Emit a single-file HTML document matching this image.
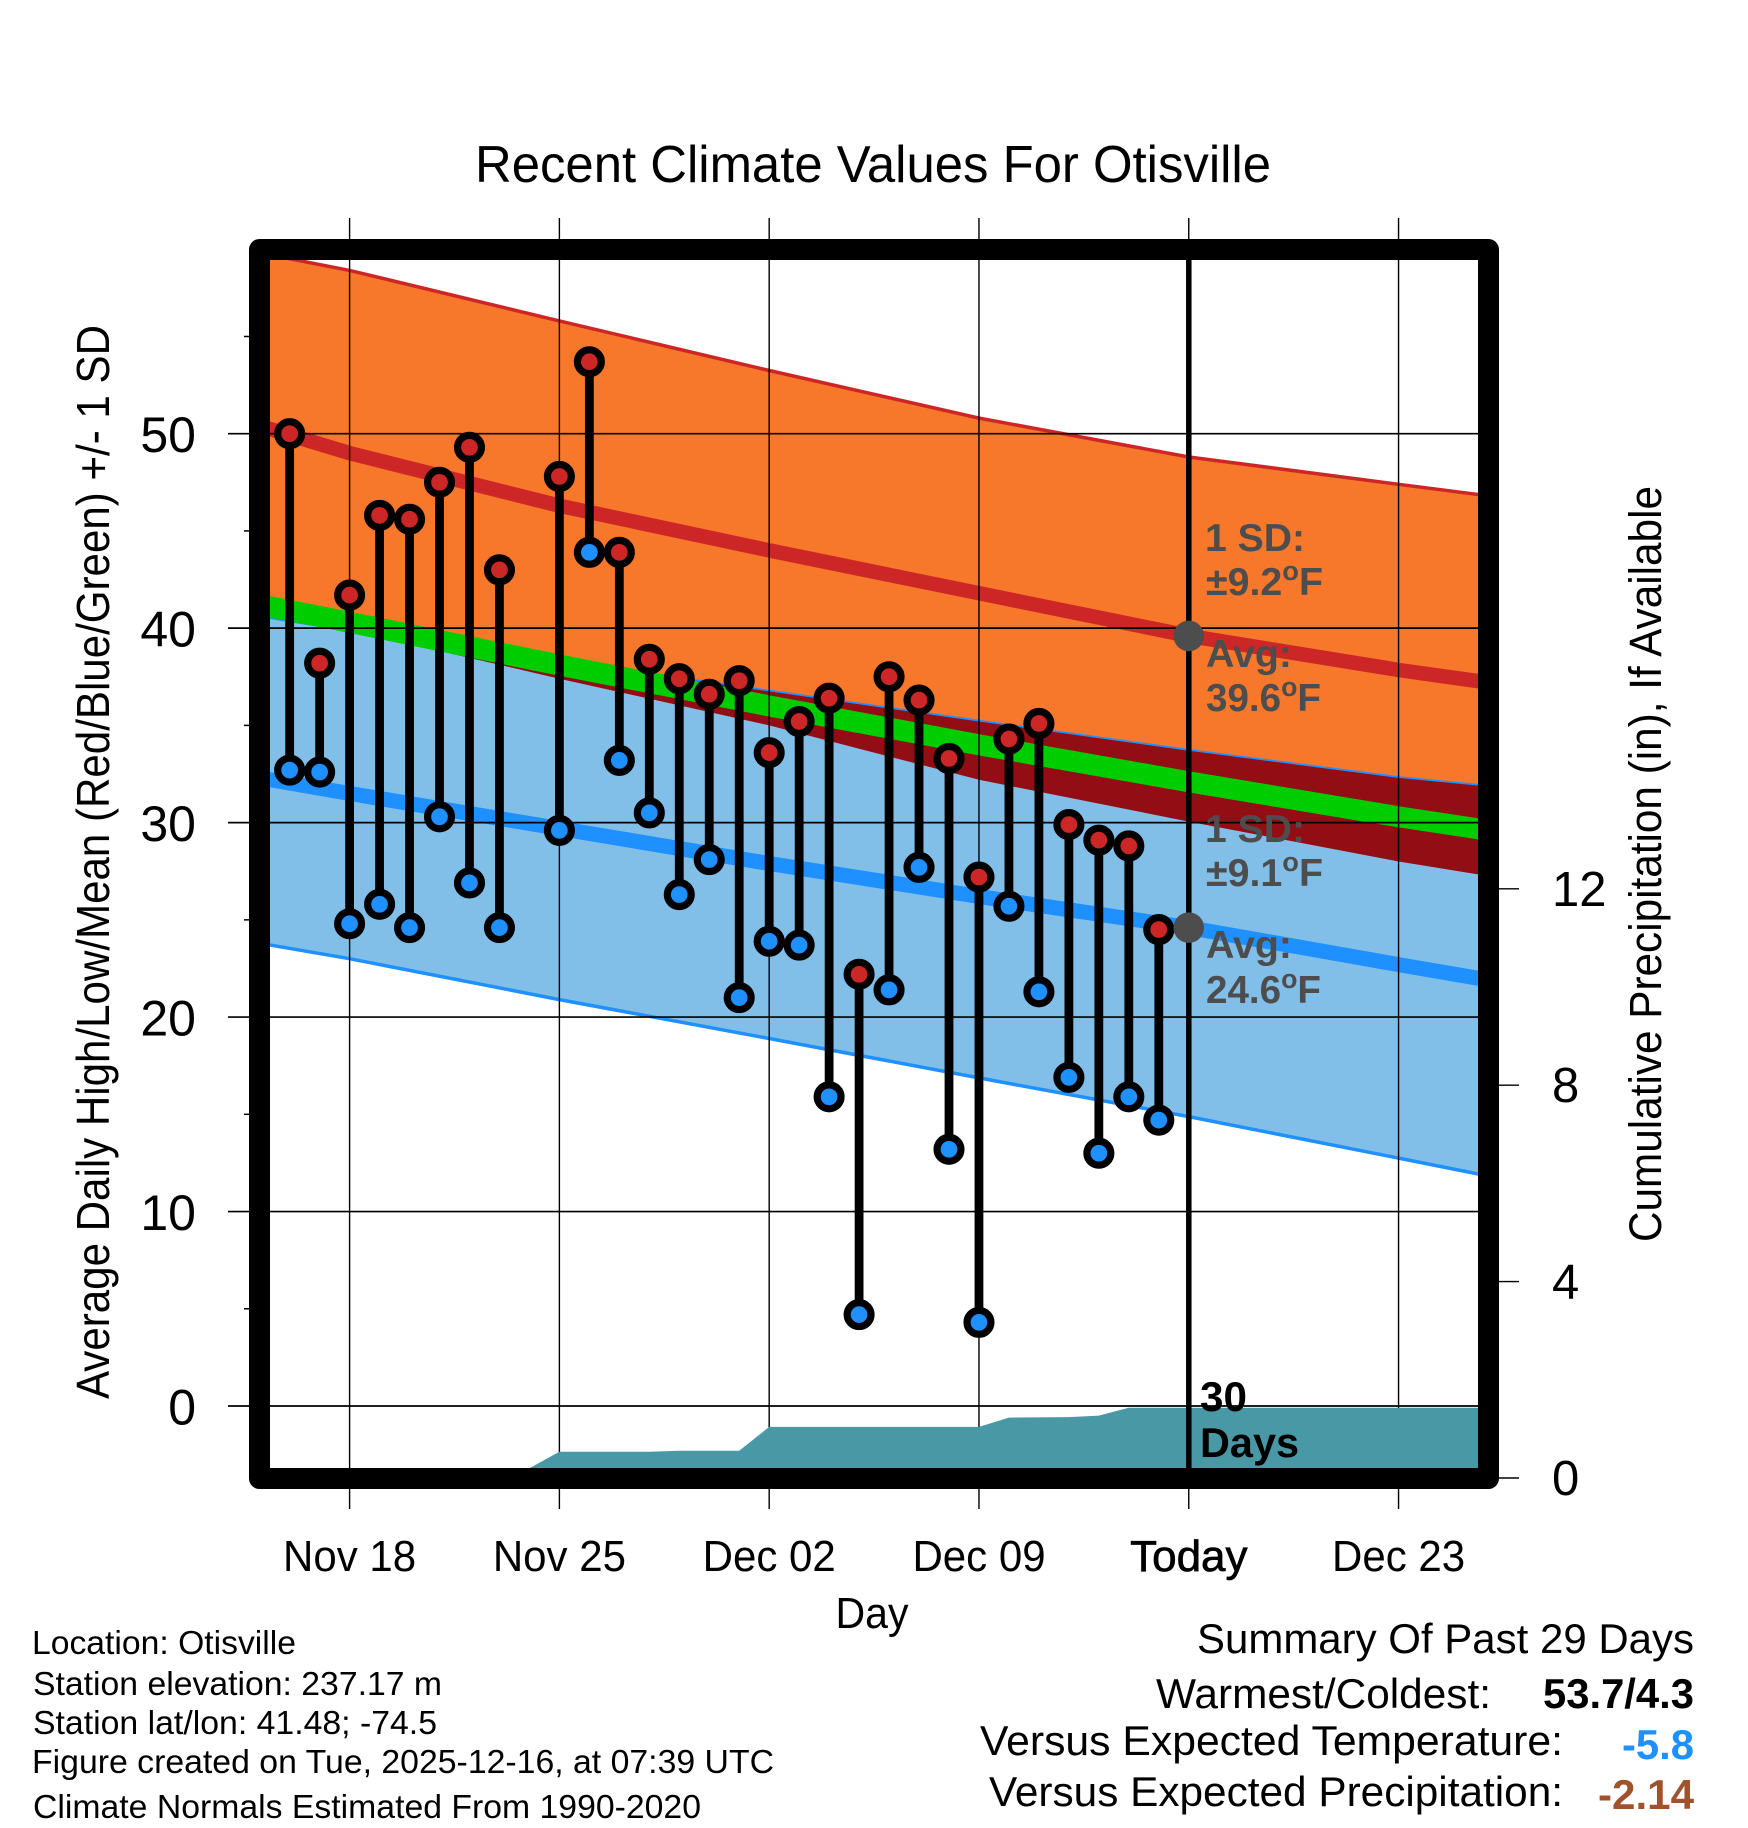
<!DOCTYPE html>
<html>
<head>
<meta charset="utf-8">
<title>Recent Climate Values For Otisville</title>
<style>
html,body{margin:0;padding:0;background:#fff;}
svg{display:block;}
text{font-family:"Liberation Sans",Arial,sans-serif;fill:#000;}
.b{font-weight:bold;}
.g{font-weight:bold;fill:#4d4d4d;font-size:39px;}
</style>
</head>
<body>
<svg id="chart" xmlns="http://www.w3.org/2000/svg" width="1748" height="1828" viewBox="0 0 1748 1828">
<defs><clipPath id="plot-clip"><rect x="270" y="260" width="1208" height="1208"/></clipPath></defs>
<rect x="0" y="0" width="1748" height="1828" fill="#fff"/>
<g id="bands" clip-path="url(#plot-clip)"></g>
<g id="grid"></g>
<g id="precip" clip-path="url(#plot-clip)"></g>
<line x1="1188.8" x2="1188.8" y1="260" y2="1468" stroke="#000" stroke-width="5.5"/>
<g id="stems"></g>
<g id="markers"></g>
<g id="today-dots"></g>
<rect x="259.5" y="249.5" width="1229" height="1229" fill="none" stroke="#000" stroke-width="21" stroke-linejoin="round"/>
<g id="ticks"></g>

<text x="873" y="182" font-size="52" text-anchor="middle" textLength="796" lengthAdjust="spacingAndGlyphs">Recent Climate Values For Otisville</text>
<text transform="translate(109,862) rotate(-90)" font-size="46" text-anchor="middle" textLength="1074" lengthAdjust="spacingAndGlyphs">Average Daily High/Low/Mean (Red/Blue/Green) +/- 1 SD</text>
<text transform="translate(1661,864) rotate(-90)" font-size="45" text-anchor="middle" textLength="756" lengthAdjust="spacingAndGlyphs">Cumulative Precipitation (in), If Available</text>
<text x="872" y="1628" font-size="44" text-anchor="middle" textLength="73" lengthAdjust="spacingAndGlyphs">Day</text>

<g>
<text class="g" x="1205" y="551" textLength="100" lengthAdjust="spacingAndGlyphs">1 SD:</text>
<text class="g" x="1206" y="595" textLength="117" lengthAdjust="spacingAndGlyphs">±9.2<tspan font-size="27" dy="-15">o</tspan><tspan dy="15">F</tspan></text>
<text class="g" x="1206" y="667" textLength="86" lengthAdjust="spacingAndGlyphs">Avg:</text>
<text class="g" x="1206" y="711" textLength="115" lengthAdjust="spacingAndGlyphs">39.6<tspan font-size="27" dy="-15">o</tspan><tspan dy="15">F</tspan></text>
</g>
<g>
<text class="g" x="1205" y="842" textLength="100" lengthAdjust="spacingAndGlyphs">1 SD:</text>
<text class="g" x="1206" y="886" textLength="117" lengthAdjust="spacingAndGlyphs">±9.1<tspan font-size="27" dy="-15">o</tspan><tspan dy="15">F</tspan></text>
<text class="g" x="1206" y="958" textLength="86" lengthAdjust="spacingAndGlyphs">Avg:</text>
<text class="g" x="1206" y="1003" textLength="115" lengthAdjust="spacingAndGlyphs">24.6<tspan font-size="27" dy="-15">o</tspan><tspan dy="15">F</tspan></text>
</g>
<g>
<text class="b" x="1200" y="1411" font-size="42" textLength="47" lengthAdjust="spacingAndGlyphs">30</text>
<text class="b" x="1200" y="1457" font-size="42" textLength="99" lengthAdjust="spacingAndGlyphs">Days</text>
</g>

<g font-size="33">
<text x="32" y="1654" textLength="264" lengthAdjust="spacingAndGlyphs">Location: Otisville</text>
<text x="33" y="1695" textLength="409" lengthAdjust="spacingAndGlyphs">Station elevation: 237.17 m</text>
<text x="33" y="1734" textLength="404" lengthAdjust="spacingAndGlyphs">Station lat/lon: 41.48; -74.5</text>
<text x="32" y="1773" textLength="742" lengthAdjust="spacingAndGlyphs">Figure created on Tue, 2025-12-16, at 07:39 UTC</text>
<text x="33" y="1818" textLength="668" lengthAdjust="spacingAndGlyphs">Climate Normals Estimated From 1990-2020</text>
</g>
<g font-size="42">
<text x="1197" y="1653" textLength="497" lengthAdjust="spacingAndGlyphs">Summary Of Past 29 Days</text>
<text x="1156" y="1708" textLength="335" lengthAdjust="spacingAndGlyphs">Warmest/Coldest:</text>
<text class="b" x="1543" y="1708" textLength="151" lengthAdjust="spacingAndGlyphs">53.7/4.3</text>
<text x="980" y="1755" textLength="583" lengthAdjust="spacingAndGlyphs">Versus Expected Temperature:</text>
<text class="b" x="1622" y="1759" textLength="72" lengthAdjust="spacingAndGlyphs" style="fill:#1e90ff">-5.8</text>
<text x="989" y="1806" textLength="574" lengthAdjust="spacingAndGlyphs">Versus Expected Precipitation:</text>
<text class="b" x="1598" y="1809" textLength="96" lengthAdjust="spacingAndGlyphs" style="fill:#a0522d">-2.14</text>
</g>
</svg>
<script>
// ---- observed daily data ----
const obsDates = ['Nov 16','Nov 17','Nov 18','Nov 19','Nov 20','Nov 21','Nov 22','Nov 23','Nov 25','Nov 26','Nov 27','Nov 28','Nov 29','Nov 30','Dec 01','Dec 02','Dec 03','Dec 04','Dec 05','Dec 06','Dec 07','Dec 08','Dec 09','Dec 10','Dec 11','Dec 12','Dec 13','Dec 14','Dec 15'];
const obsHigh = [50.0,38.2,41.7,45.8,45.6,47.5,49.3,43.0,47.8,53.7,43.9,38.4,37.4,36.6,37.3,33.6,35.2,36.4,22.2,37.5,36.3,33.3,27.2,34.3,35.1,29.9,29.1,28.8,24.5];
const obsLow = [32.7,32.6,24.8,25.8,24.6,30.3,26.9,24.6,29.6,43.9,33.2,30.5,26.3,28.1,21.0,23.9,23.7,15.9,4.7,21.4,27.7,13.2,4.3,25.7,21.3,16.9,13.0,15.9,14.7];

// ---- climatology, read at weekly dates ----
const climDates = ['Nov 15','Nov 18','Nov 25','Dec 02','Dec 09','Dec 16','Dec 23','Dec 26'];
const highUpper = [59.3,58.4,55.8,53.25,50.8,48.8,47.4,46.8];
const highAvg = [50.4,49.0,46.3,44.0,41.8,39.6,37.85,37.2];
const highLower = [40.85,39.95,37.4,35.0,32.2,30.05,28.0,27.25];
const meanAvg = [41.2,40.3,38.1,36.0,34.0,32.1,30.3,29.6];
const lowUpper = [40.65,39.9,38.3,36.75,35.2,33.7,32.3,31.85];
const lowAvg = [32.3,31.5,29.7,27.9,26.2,24.6,22.7,21.9];
const lowLower = [23.8,23.0,20.9,18.9,16.87,14.88,12.75,11.83];
const todayAverages = [39.6,24.6];

// ---- cumulative precipitation ----
const precipDates = ['Nov 15','Nov 24','Nov 25','Nov 28','Nov 29','Dec 01','Dec 02','Dec 09','Dec 10','Dec 12','Dec 13','Dec 14','Dec 26'];
const precipValues = [0.2,0.2,0.535,0.535,0.555,0.555,1.04,1.04,1.23,1.24,1.27,1.43,1.43];

// ---- axes ----
const xTickDates = ['Nov 18','Nov 25','Dec 02','Dec 09','Dec 16','Dec 23'];
const xTickLabels = ['Nov 18','Nov 25','Dec 02','Dec 09','Today','Dec 23'];
const yMajorTicks = [0,10,20,30,40,50];
const yMinorTicks = [5,15,25,35,45,55];
const precipTicks = [0,4,8,12];

const SVGNS = 'http://www.w3.org/2000/svg';
function dayIndex(label){
  const parts = label.split(' ');
  const base = parts[0] === 'Nov' ? -18 : 12;
  return base + parseInt(parts[1], 10);
}
function xScale(label){ return 349.6 + 29.97 * dayIndex(label); }
function yScale(v){ return 1406 - 19.446 * v; }
function pScale(p){ return 1478 - 49.1 * p; }
function make(tag, attrs, parent){
  const el = document.createElementNS(SVGNS, tag);
  for (const k in attrs) el.setAttribute(k, attrs[k]);
  parent.appendChild(el);
  return el;
}
function bandPoints(dates, top, bottom){
  const pts = [];
  for (let i = 0; i < dates.length; i++) pts.push(xScale(dates[i]).toFixed(1) + ',' + yScale(top[i]).toFixed(1));
  for (let i = dates.length - 1; i >= 0; i--) pts.push(xScale(dates[i]).toFixed(1) + ',' + yScale(bottom[i]).toFixed(1));
  return pts.join(' ');
}
function linePoints(dates, vals){
  return dates.map(function(d, i){ return xScale(d).toFixed(1) + ',' + yScale(vals[i]).toFixed(1); }).join(' ');
}

// bands
const bands = document.getElementById('bands');
const orangeBand = make('polygon', {points: bandPoints(climDates, highUpper, highLower), fill: '#f7772b'}, bands);


const blueBand = make('polygon', {points: bandPoints(climDates, lowUpper, lowLower), fill: '#82bfe8'}, bands);


const lowUpperLine = make('polyline', {points: linePoints(climDates, lowUpper), fill: 'none', stroke: '#1e90ff', 'stroke-width': 3.5}, bands);


const overlapBottom = highLower.map(function(v, i){ return Math.min(v, lowUpper[i]); });
const overlapBand = make('polygon', {points: bandPoints(climDates, lowUpper, overlapBottom), fill: '#930d14'}, bands);


const lowLowerLine = make('polyline', {points: linePoints(climDates, lowLower), fill: 'none', stroke: '#1e90ff', 'stroke-width': 3.5}, bands);


const highUpperLine = make('polyline', {points: linePoints(climDates, highUpper), fill: 'none', stroke: '#cd2626', 'stroke-width': 3.5}, bands);


const meanLine = make('polyline', {points: linePoints(climDates, meanAvg), fill: 'none', stroke: '#00cd00', 'stroke-width': 21}, bands);


const highLine = make('polyline', {points: linePoints(climDates, highAvg), fill: 'none', stroke: '#cd2626', 'stroke-width': 14.5}, bands);


const lowLine = make('polyline', {points: linePoints(climDates, lowAvg), fill: 'none', stroke: '#1e90ff', 'stroke-width': 15}, bands);



// grid + ticks
const grid = document.getElementById('grid');
xTickDates.forEach(function(d){
  const gl = make('line', {x1: xScale(d), x2: xScale(d), y1: 218, y2: 1509, stroke: '#000', 'stroke-width': 1.4}, grid);
  
  
});
yMajorTicks.forEach(function(v){
  const gl = make('line', {x1: 228, x2: 1478, y1: yScale(v), y2: yScale(v), stroke: '#000', 'stroke-width': 1.7}, grid);
  
  
});

// precipitation
const precip = document.getElementById('precip');
const precipPts = precipDates.map(function(d, i){ return xScale(d).toFixed(1) + ',' + pScale(precipValues[i]).toFixed(1); });
precipPts.push(xScale(precipDates[precipDates.length - 1]).toFixed(1) + ',1480');
precipPts.push(xScale(precipDates[0]).toFixed(1) + ',1480');
const precipArea = make('polygon', {points: precipPts.join(' '), fill: '#4899a5'}, precip);



// stems and markers
const stems = document.getElementById('stems');
const markers = document.getElementById('markers');
obsDates.forEach(function(d, i){
  const x = xScale(d);
  const stem = make('line', {x1: x, x2: x, y1: yScale(obsHigh[i]), y2: yScale(obsLow[i]), stroke: '#000', 'stroke-width': 8.8}, stems);
  
  
});
obsDates.forEach(function(d, i){
  const x = xScale(d);
  const lowDot = make('circle', {cx: x, cy: yScale(obsLow[i]), r: 11.95, fill: '#1e90ff', stroke: '#000', 'stroke-width': 7.2}, markers);
  
  
  const highDot = make('circle', {cx: x, cy: yScale(obsHigh[i]), r: 11.95, fill: '#cd2626', stroke: '#000', 'stroke-width': 7.2}, markers);
  
  
});

// today dots
const todayG = document.getElementById('today-dots');
todayAverages.forEach(function(v){
  const dot = make('circle', {cx: xScale('Dec 16'), cy: yScale(v), r: 15.3, fill: '#4d4d4d'}, todayG);
  
  
});

// ticks and labels
const ticks = document.getElementById('ticks');
yMajorTicks.forEach(function(v){
  const lab = make('text', {x: 196, y: yScale(v) + 18.3, 'font-size': 50, 'text-anchor': 'end'}, ticks);
  lab.textContent = String(v);
  
  
});
yMinorTicks.forEach(function(v){
  const t = make('line', {x1: 244, x2: 250, y1: yScale(v), y2: yScale(v), stroke: '#000', 'stroke-width': 1.5}, ticks);
  
  
});
precipTicks.forEach(function(p){
  const t = make('line', {x1: 1499, x2: 1519, y1: pScale(p), y2: pScale(p), stroke: '#000', 'stroke-width': 1.4}, ticks);
  
  
  const lab = make('text', {x: 1552, y: pScale(p) + 17, 'font-size': 49, 'text-anchor': 'start'}, ticks);
  lab.textContent = String(p);
  
  
});
xTickDates.forEach(function(d, i){
  const isToday = xTickLabels[i] === 'Today';
  const sx = isToday ? 1.0 : 0.955;
  const lab = make('text', {transform: 'translate(' + xScale(d).toFixed(1) + ',1571) scale(' + sx + ',1)', 'font-size': 44, 'text-anchor': 'middle'}, ticks);
  if (isToday) lab.setAttribute('style', 'stroke:#000;stroke-width:0.7px');
  lab.textContent = xTickLabels[i];
  
  
});
</script>
</body>
</html>
